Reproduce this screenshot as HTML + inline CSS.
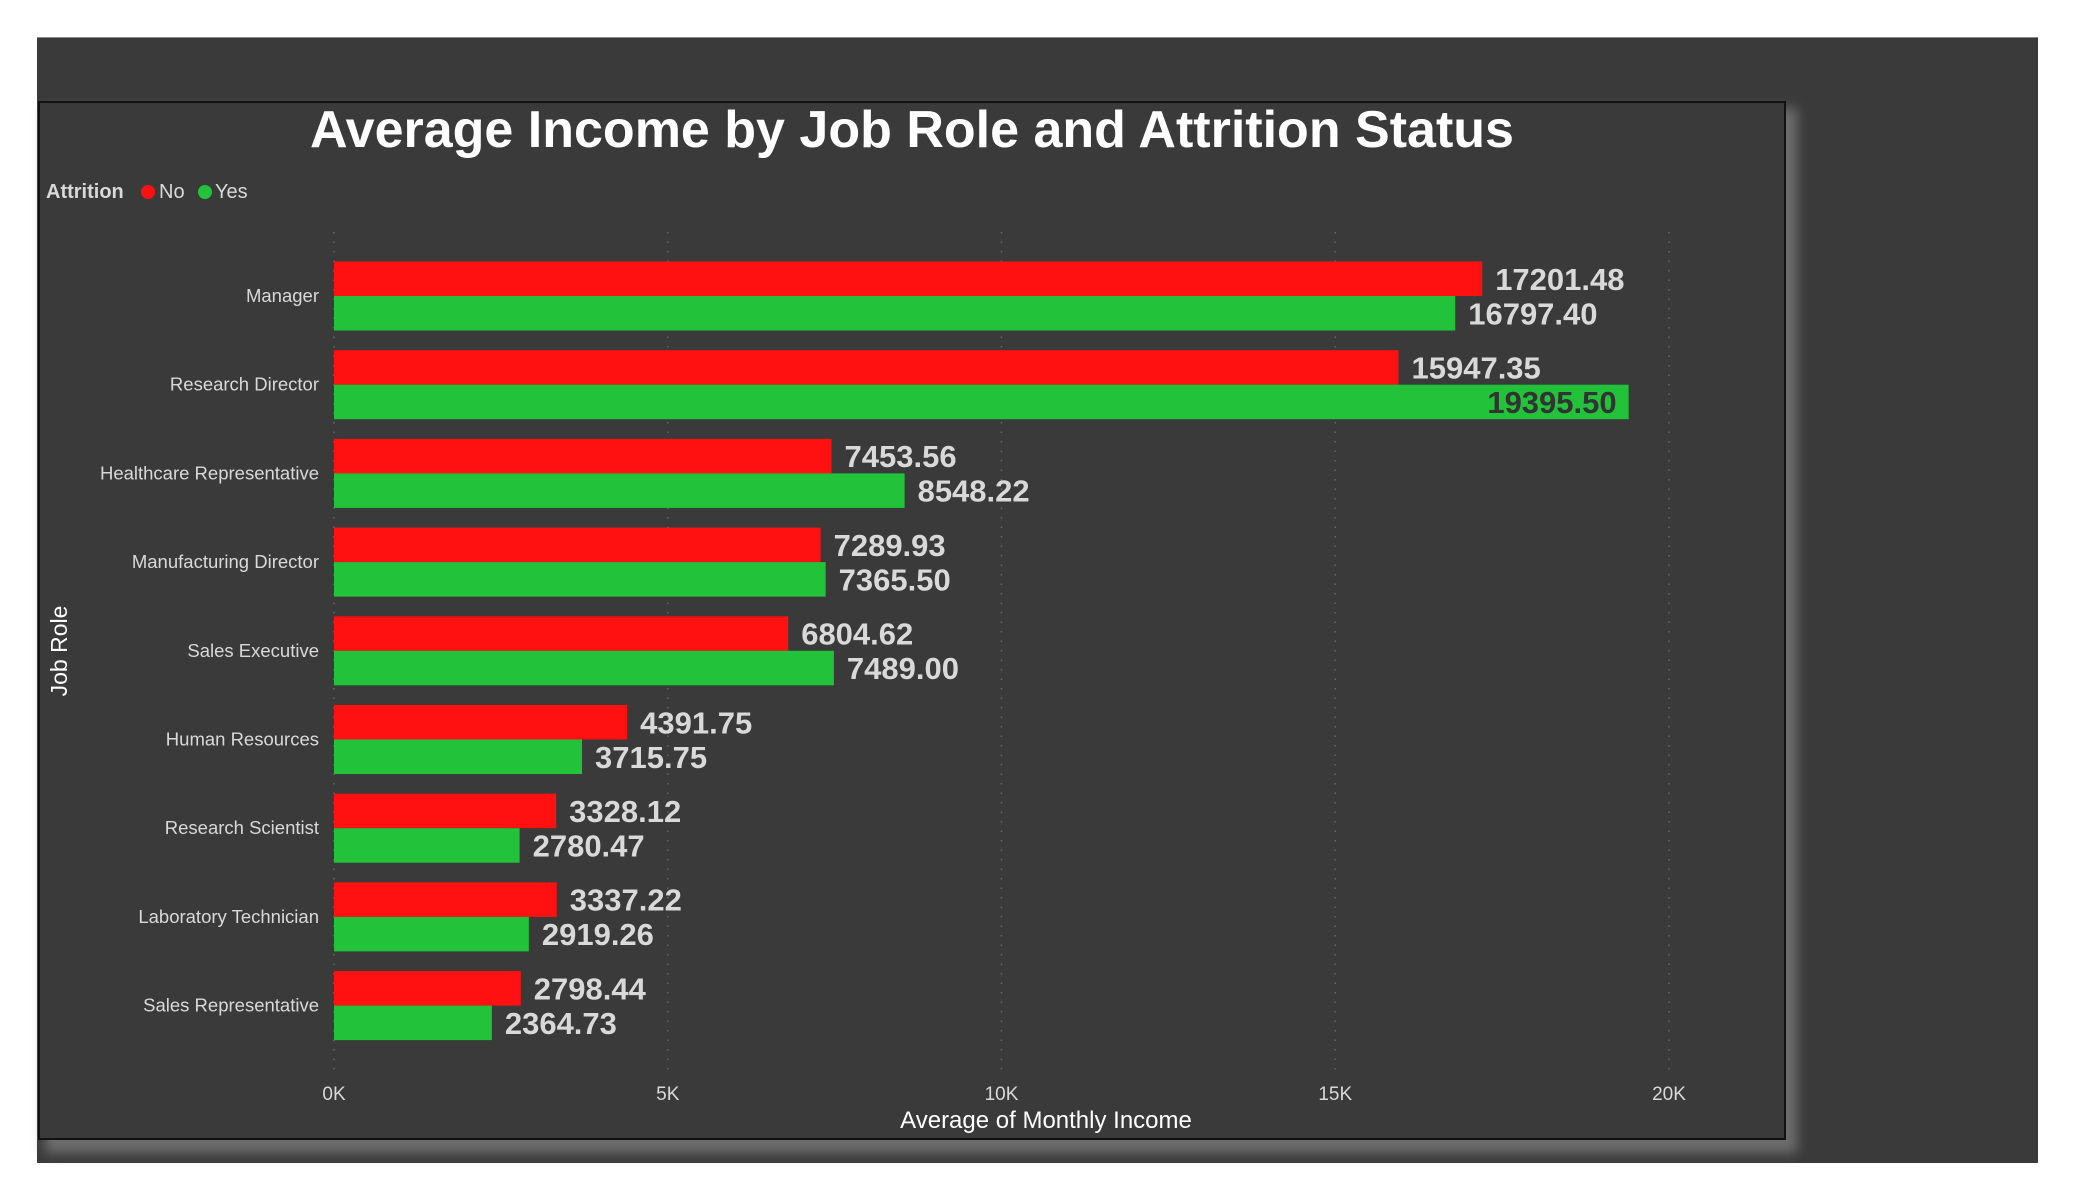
<!DOCTYPE html>
<html><head><meta charset="utf-8"><style>
html,body{margin:0;padding:0;background:#fff;}
body{width:2075px;height:1200px;position:relative;overflow:hidden;font-family:"Liberation Sans",sans-serif;}
#outer{position:absolute;left:37px;top:37px;width:2001px;height:1125px;background:#3a3a3a;border-top:1px solid #888;}
#shadow{position:absolute;left:45px;top:108px;width:1752px;height:1045px;background:#6e6e6e;filter:blur(6px);}
#panel{position:absolute;left:38px;top:101px;width:1744px;height:1035px;background:#3a3a3a;border:2px solid #111;}
svg{position:absolute;left:0;top:0;}
</style></head><body>
<div id="outer"></div>
<div id="shadow"></div>
<div id="panel"></div>
<svg id="chart" width="2075" height="1200">
<text x="912" y="147" text-anchor="middle" fill="#fff" font-size="52" font-weight="bold">Average Income by Job Role and Attrition Status</text>
<g>
<text x="46" y="198" fill="#d9d9d9" font-size="20" font-weight="bold">Attrition</text>
<circle cx="148" cy="192" r="7" fill="#ff1111"/>
<text x="159" y="198" fill="#d9d9d9" font-size="20">No</text>
<circle cx="205" cy="192" r="7" fill="#22c33a"/>
<text x="215" y="198" fill="#d9d9d9" font-size="20">Yes</text>
</g>
<g id="grid"></g><g id="bars"></g><g id="labels"></g>
<text x="1046" y="1128" text-anchor="middle" fill="#fff" font-size="24">Average of Monthly Income</text>
<text transform="translate(67,651) rotate(-90)" text-anchor="middle" fill="#fff" font-size="23">Job Role</text>
</svg>
<script>
const categories=["Manager","Research Director","Healthcare Representative","Manufacturing Director","Sales Executive","Human Resources","Research Scientist","Laboratory Technician","Sales Representative"];
const noValues=[17201.48,15947.35,7453.56,7289.93,6804.62,4391.75,3328.12,3337.22,2798.44];
const yesValues=[16797.40,19395.50,8548.22,7365.50,7489.00,3715.75,2780.47,2919.26,2364.73];
const tickValues=[0,5000,10000,15000,20000];
const tickLabels=["0K","5K","10K","15K","20K"];
const NS="http://www.w3.org/2000/svg";
const X0=334,X1=1669,XMAX=20000;
const x=v=>X0+(X1-X0)*v/XMAX;
const yC=i=>296+i*88.7;
const BH=34.5;
function mk(tag,attrs,parent){const e=document.createElementNS(NS,tag);for(const k in attrs)e.setAttribute(k,attrs[k]);parent.appendChild(e);return e;}
const grid=document.getElementById('grid'),bars=document.getElementById('bars'),labels=document.getElementById('labels');
tickValues.forEach((t,i)=>{
  const l=mk('line',{x1:x(t),x2:x(t),y1:232,y2:1072,stroke:'#666','stroke-width':1.5,'stroke-dasharray':'1.5 8'},grid);
  
  
  const tx=mk('text',{x:x(t),y:1100,'text-anchor':'middle',fill:'#d9d9d9','font-size':19},grid);
  tx.textContent=tickLabels[i];
  
  
});
categories.forEach((c,i)=>{
  const cy=yC(i);
  const cl=mk('text',{x:319,y:cy+6,'text-anchor':'end',fill:'#d9d9d9','font-size':18.5},labels);
  cl.textContent=c;
  
  
  [[noValues[i],'#ff1111',cy-BH,'bar-no'],[yesValues[i],'#22c33a',cy,'bar-yes']].forEach(([v,col,top,nm])=>{
    const r=mk('rect',{x:X0,y:top,width:x(v)-X0,height:BH,fill:col},bars);
    
    
    const txt=v.toFixed(2);
    const est=txt.length*17.2;
    let lx=x(v)+13,anchor='start',fill='#d9d9d9';
    if(lx+est>1700){lx=x(v)-12;anchor='end';fill='#333';}
    const t=mk('text',{x:lx,y:top+BH/2+11,'text-anchor':anchor,fill:fill,'font-size':31,'font-weight':'bold'},labels);
    t.textContent=txt;
    
    
  });
});
</script>
</body></html>
